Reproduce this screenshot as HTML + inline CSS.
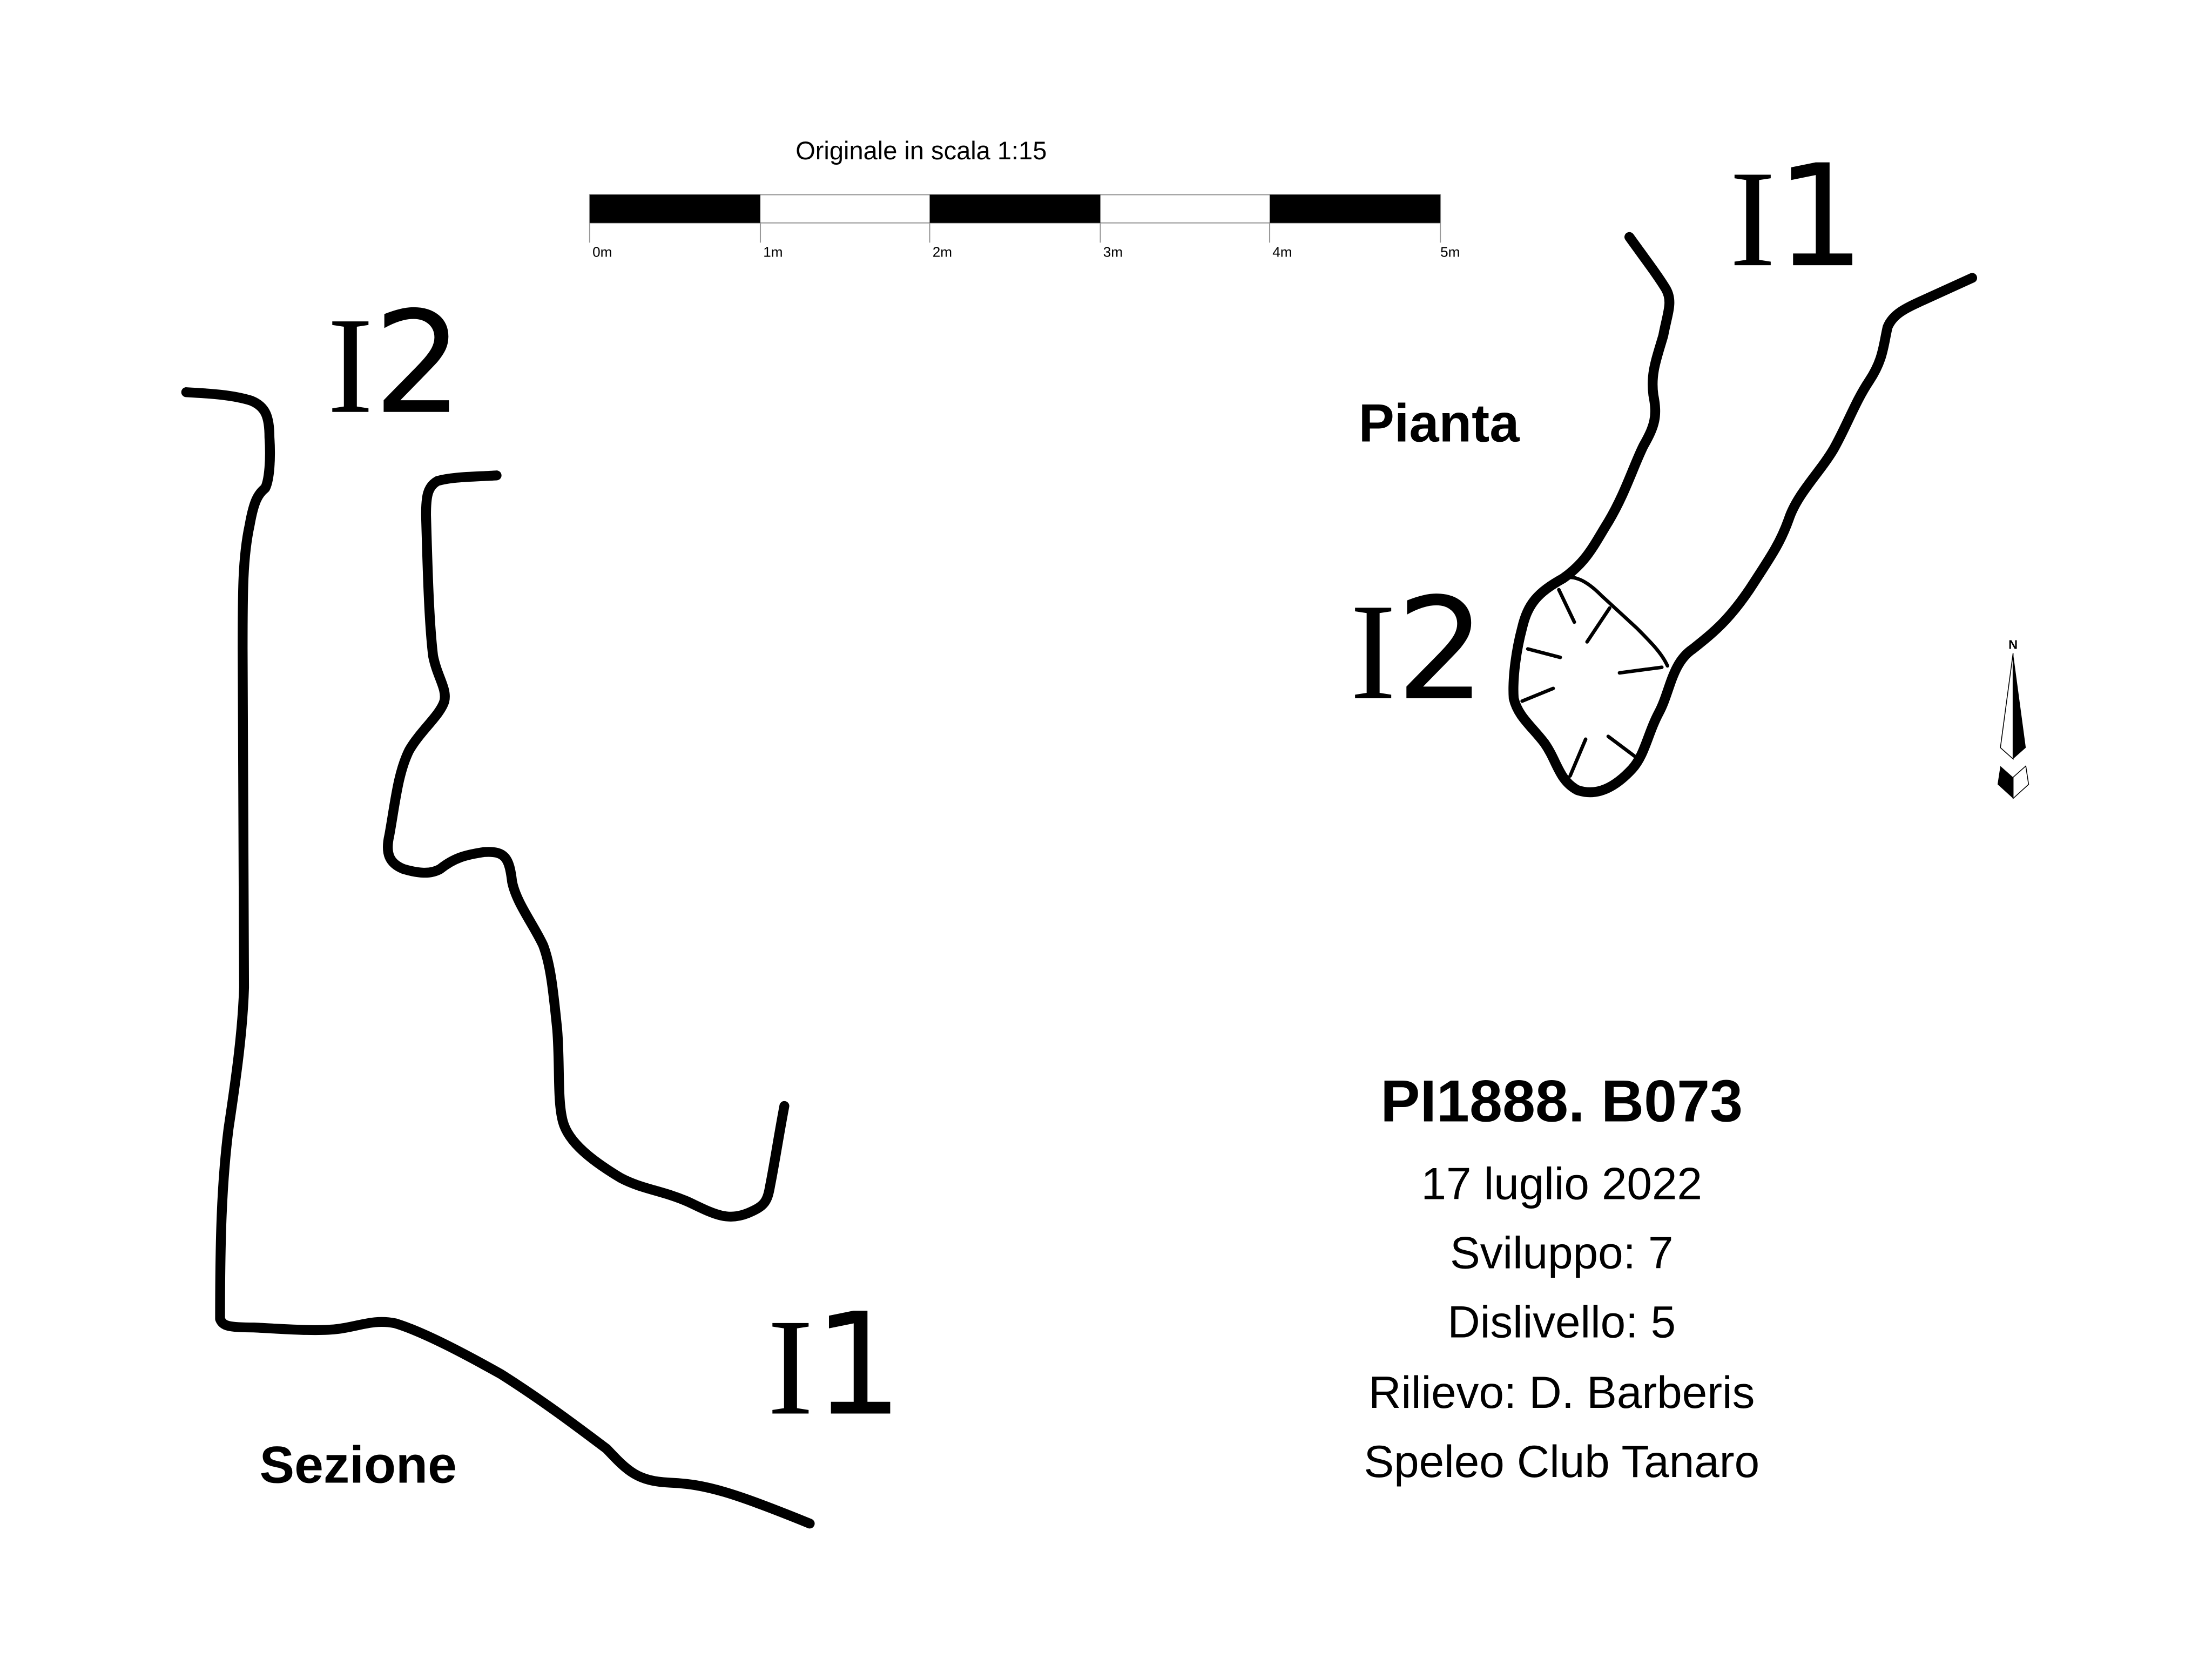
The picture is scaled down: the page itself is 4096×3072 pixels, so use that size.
<!DOCTYPE html>
<html><head><meta charset="utf-8"><style>html,body{margin:0;padding:0;background:#fff}svg{display:block}</style></head>
<body>
<svg width="4096" height="3072" viewBox="0 0 1568 1176" preserveAspectRatio="none" xmlns="http://www.w3.org/2000/svg">
<rect width="1568" height="1176" fill="#fff"/>
<g fill="none" stroke="#000" stroke-width="7" stroke-linecap="round" stroke-linejoin="round">
<path d="M132,278 C150,279 165,280 178,284 C188,288 191,295 191,310 C192,325 191,340 188,346 C183,350 180,355 177,372 C172,395 172,420 172,460 L173,700 C172,730 168,760 162,800 C157,840 156,880 156,935 C158,940 162,941 180,941 C200,942 225,944 240,942 C255,940 265,935 280,938 C300,944 330,960 355,974 C385,993 410,1012 430,1027 C445,1043 452,1050 475,1051 C500,1052 520,1058 574,1080"/>
<path d="M352,337 C335,338 320,338 310,341 C303,345 302,352 302,365 C303,400 304,440 307,465 C310,480 317,488 315,497 C312,507 298,518 290,532 C282,548 280,570 276,592 C273,605 276,612 286,616 C296,619 305,620 312,616 C322,608 330,606 343,604 C358,603 361,608 363,625 C366,640 378,655 385,670 C390,683 392,700 395,730 C397,755 395,780 399,795 C403,810 420,823 440,835 C455,843 470,844 488,852 C505,860 515,866 530,860 C542,855 544,852 546,840 C549,825 552,805 556,784"/>
<path d="M1155,168 C1165,182 1175,195 1181,205 C1186,214 1182,222 1179,238 C1174,255 1170,265 1172,280 C1175,295 1173,302 1165,316 C1158,330 1152,350 1140,370 C1130,386 1125,398 1108,410 C1090,420 1083,428 1079,445 C1075,460 1072,480 1073,495 C1076,508 1086,515 1095,527 C1104,540 1105,553 1118,560 C1132,565 1145,558 1157,545 C1166,535 1168,520 1176,505 C1184,490 1185,470 1200,460 C1215,448 1225,440 1240,418 C1255,395 1262,385 1268,368 C1274,350 1290,335 1300,318 C1310,300 1315,285 1325,270 C1335,255 1335,245 1338,232 C1342,222 1352,218 1365,212 L1398,197"/>
</g>
<g fill="none" stroke="#000" stroke-width="2.5" stroke-linecap="round">
<path d="M1105,411 C1115,406 1125,412 1135,422 L1160,445 C1170,455 1178,463 1182,472"/>
<path d="M1105,418 L1116,441 M1141,431 L1125,455 M1083,460 L1106,466 M1148,477 L1178,473 M1079,497 L1101,488 M1124,524 L1113,550 M1140,522 L1160,537"/>
</g>
<g stroke="#999" stroke-width="0.8">
<rect x="418" y="138" width="603" height="20" fill="#fff"/>
<line x1="418" y1="158" x2="418" y2="172"/><line x1="539" y1="158" x2="539" y2="172"/><line x1="659" y1="158" x2="659" y2="172"/><line x1="780" y1="158" x2="780" y2="172"/><line x1="900" y1="158" x2="900" y2="172"/><line x1="1021" y1="158" x2="1021" y2="172"/>
</g>
<rect x="418" y="138" width="121" height="20" fill="#000"/>
<rect x="659" y="138" width="121" height="20" fill="#000"/>
<rect x="900" y="138" width="121" height="20" fill="#000"/>
<g font-family="Liberation Sans, sans-serif" font-size="10" fill="#000">
<text x="420" y="182">0m</text><text x="541" y="182">1m</text><text x="661" y="182">2m</text><text x="782" y="182">3m</text><text x="902" y="182">4m</text><text x="1021" y="182">5m</text>
</g>
<text x="653" y="113" font-family="Liberation Sans, sans-serif" font-size="18" text-anchor="middle">Originale in scala 1:15</text>
<text x="1427" y="460" font-family="Liberation Sans, sans-serif" font-size="9" font-weight="bold" text-anchor="middle">N</text>
<path d="M1427,463 L1418,530 L1427,538 Z" fill="#fff" stroke="#000" stroke-width="0.6"/>
<path d="M1427,463 L1436,530 L1427,538 Z" fill="#000"/>
<path d="M1418,543 L1427,551 L1427,566 L1416,556 Z" fill="#000"/>
<path d="M1436,543 L1427,551 L1427,566 L1438,556 Z" fill="#fff" stroke="#000" stroke-width="0.6"/>
<g font-family="DejaVu Sans, sans-serif" font-size="100" fill="#000">
<text x="1226" y="188"><tspan font-family="Liberation Serif, serif" font-size="98">I</tspan><tspan>1</tspan></text>
<text x="232" y="292"><tspan font-family="Liberation Serif, serif" font-size="98">I</tspan><tspan>2</tspan></text>
<text x="957" y="495"><tspan font-family="Liberation Serif, serif" font-size="98">I</tspan><tspan>2</tspan></text>
<text x="544" y="1002"><tspan font-family="Liberation Serif, serif" font-size="98">I</tspan><tspan>1</tspan></text>
</g>
<g font-family="Liberation Sans, sans-serif" font-weight="bold" fill="#000">
<text x="963" y="313" font-size="38">Pianta</text>
<text x="184" y="1051" font-size="37">Sezione</text>
<text x="1107" y="795" font-size="42" text-anchor="middle">PI1888. B073</text>
</g>
<g font-family="Liberation Sans, sans-serif" font-size="32" fill="#000" text-anchor="middle">
<text x="1107" y="850">17 luglio 2022</text>
<text x="1107" y="899">Sviluppo: 7</text>
<text x="1107" y="948">Dislivello: 5</text>
<text x="1107" y="998">Rilievo: D. Barberis</text>
<text x="1107" y="1047">Speleo Club Tanaro</text>
</g>
</svg>
</body></html>
